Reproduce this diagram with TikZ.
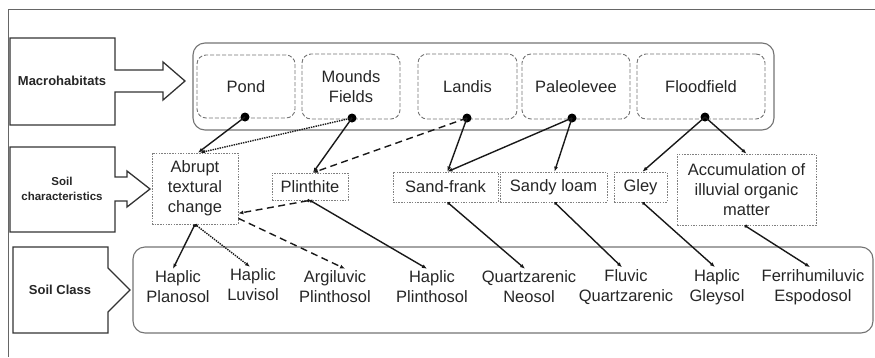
\documentclass[tikz,border=0pt]{standalone}
\usepackage{fontspec}
\setmainfont{Liberation Sans}
\usetikzlibrary{arrows.meta}
\begin{document}
\begin{tikzpicture}[x=1pt,y=-1pt,
  txt/.style={font=\fontsize{16.5}{20}\selectfont, align=center, text=black!85},
  lbl/.style={font=\bfseries\fontsize{13}{15}\selectfont, align=center, text=black!85},
  habbox/.style={txt, draw=black!55, line width=0.9pt, dash pattern=on 4pt off 2pt, rounded corners=9pt},
  outerbox/.style={draw=black!55, line width=1.1pt, rounded corners=12pt},
  charbox/.style={txt, draw=black!50, line width=0.7pt, dash pattern=on 1.5pt off 1.2pt, inner sep=1pt},
  classtxt/.style={txt, inner sep=2pt},
  dotnode/.style={circle, fill=black, inner sep=0pt, minimum size=9pt},
  callout/.style={draw=black!80, line width=1.3pt, line join=miter},
  conn/.style={draw=black!90, line width=1.4pt, -{Latex[length=5pt,width=4pt]}},
  lconn/.style={conn, {Circle[length=3pt]}-{Latex[length=5pt,width=4pt]}},
  fdot/.style={dash pattern=on 1.4pt off 1pt},
  ldash/.style={dash pattern=on 7pt off 4.5pt}
]
\useasboundingbox (0,0) rectangle (875,357);
% frame
\draw[black!60, line width=1pt] (8,357) -- (8,9) -- (875,9);

% callouts
\draw[callout] (10,38) -- (115,38) -- (115,70) -- (163,70) -- (163,62) -- (185,81) -- (163,100) -- (163,92) -- (115,92) -- (115,125) -- (10,125) -- cycle;
\node[lbl] (lmac) at (62,81) {Macrohabitats};
\draw[callout] (10,147) -- (115,147) -- (115,177) -- (127,177) -- (127,171) -- (150,189) -- (127,207) -- (127,201) -- (115,201) -- (115,232) -- (10,232) -- cycle;
\node[lbl, font=\bfseries\fontsize{11.5}{15}\selectfont] (lchar) at (62,189) {Soil\\characteristics};
\draw[callout] (13,247) -- (108,247) -- (108,268) -- (130,290) -- (108,312) -- (108,333) -- (13,333) -- cycle;
\node[lbl] (lclass) at (60,290) {Soil Class};

% outer boxes
\node[outerbox, minimum width=581pt, minimum height=87pt] (macro) at (483.5,86.5) {};
\node[outerbox, minimum width=740pt, minimum height=86pt] (classbox) at (503,290) {};

% macrohabitats
\node[habbox, minimum width=98pt, minimum height=63pt] (pond) at (246,86.5) {Pond};
\node[habbox, minimum width=98pt, minimum height=65pt] (mounds) at (351,86.5) {Mounds\\Fields};
\node[habbox, minimum width=99pt, minimum height=65pt] (landis) at (467.5,86.5) {Landis};
\node[habbox, minimum width=108pt, minimum height=65pt] (paleo) at (576,86.5) {Paleolevee};
\node[habbox, minimum width=128pt, minimum height=65pt] (flood) at (701,86.5) {Floodfield};

\node[dotnode] (pdot) at (245,117) {};
\node[dotnode] (mdot) at (352,118) {};
\node[dotnode] (ldot) at (467,118) {};
\node[dotnode] (padot) at (572,118) {};
\node[dotnode] (fdotn) at (705,117) {};

% soil characteristics
\node[charbox, minimum width=86pt, minimum height=71pt] (abrupt) at (195,188.5) {Abrupt\\textural\\change};
\node[charbox, minimum width=76pt, minimum height=27pt] (plin) at (310,186.5) {Plinthite};
\node[charbox, minimum width=105pt, minimum height=30pt] (sand) at (445.5,187) {Sand-frank};
\node[charbox, minimum width=107pt, minimum height=30pt] (loam) at (553.5,187) {Sandy loam};
\node[charbox, minimum width=53pt, minimum height=30pt] (gley) at (640.5,187) {Gley};
\node[charbox, minimum width=139pt, minimum height=71pt] (accum) at (746.5,189.5) {Accumulation of\\illuvial organic\\matter};

% soil classes
\node[classtxt] (hplan) at (178,287) {Haplic\\Planosol};
\node[classtxt] (hluv) at (253,285) {Haplic\\Luvisol};
\node[classtxt] (argi) at (335,287) {Argiluvic\\Plinthosol};
\node[classtxt] (hplin) at (432,287) {Haplic\\Plinthosol};
\node[classtxt] (qneo) at (529,287) {Quartzarenic\\Neosol};
\node[classtxt] (fluv) at (626,287) {Fluvic\\Quartzarenic};
\node[classtxt] (hgley) at (717,287) {Haplic\\Gleysol};
\node[classtxt] (ferri) at (813,287) {Ferrihumiluvic\\Espodosol};

% upper connectors
\draw[conn] (pdot.center) -- ([xshift=3pt]abrupt.north);
\draw[conn, fdot] (mdot.center) -- ([xshift=5pt]abrupt.north);
\draw[conn] (mdot.center) -- ([xshift=3pt]plin.north);
\draw[conn, ldash] (ldot.center) -- ([xshift=3pt]plin.north);
\draw[conn] (ldot.center) -- ([xshift=2pt]sand.north);
\draw[conn] (padot.center) -- ([xshift=2pt]sand.north);
\draw[conn] (padot.center) -- ([xshift=1pt]loam.north);
\draw[conn] (fdotn.center) -- ([xshift=2pt]gley.north);
\draw[conn] (fdotn.center) -- (accum.north);

% lower connectors
\draw[lconn] (abrupt.south) -- ([xshift=-5pt]hplan.north);
\draw[lconn, fdot] (abrupt.south) -- ([xshift=-3pt]hluv.north);
\draw[lconn, ldash] (plin.south) -- ([yshift=11pt]abrupt.south east);
\draw[conn, ldash] ([yshift=6pt]abrupt.south east) -- ([xshift=10pt]argi.north);
\draw[lconn] (plin.south) -- ([xshift=-5pt]hplin.north);
\draw[lconn] ([xshift=2pt]sand.south) -- ([xshift=-4pt]qneo.north);
\draw[lconn] ([xshift=1pt]loam.south) -- ([xshift=-4pt]fluv.north);
\draw[lconn] ([xshift=2pt]gley.south) -- ([xshift=-2pt]hgley.north);
\draw[lconn] ([xshift=-2pt]accum.south) -- ([xshift=-3pt]ferri.north);
\end{tikzpicture}
\end{document}
